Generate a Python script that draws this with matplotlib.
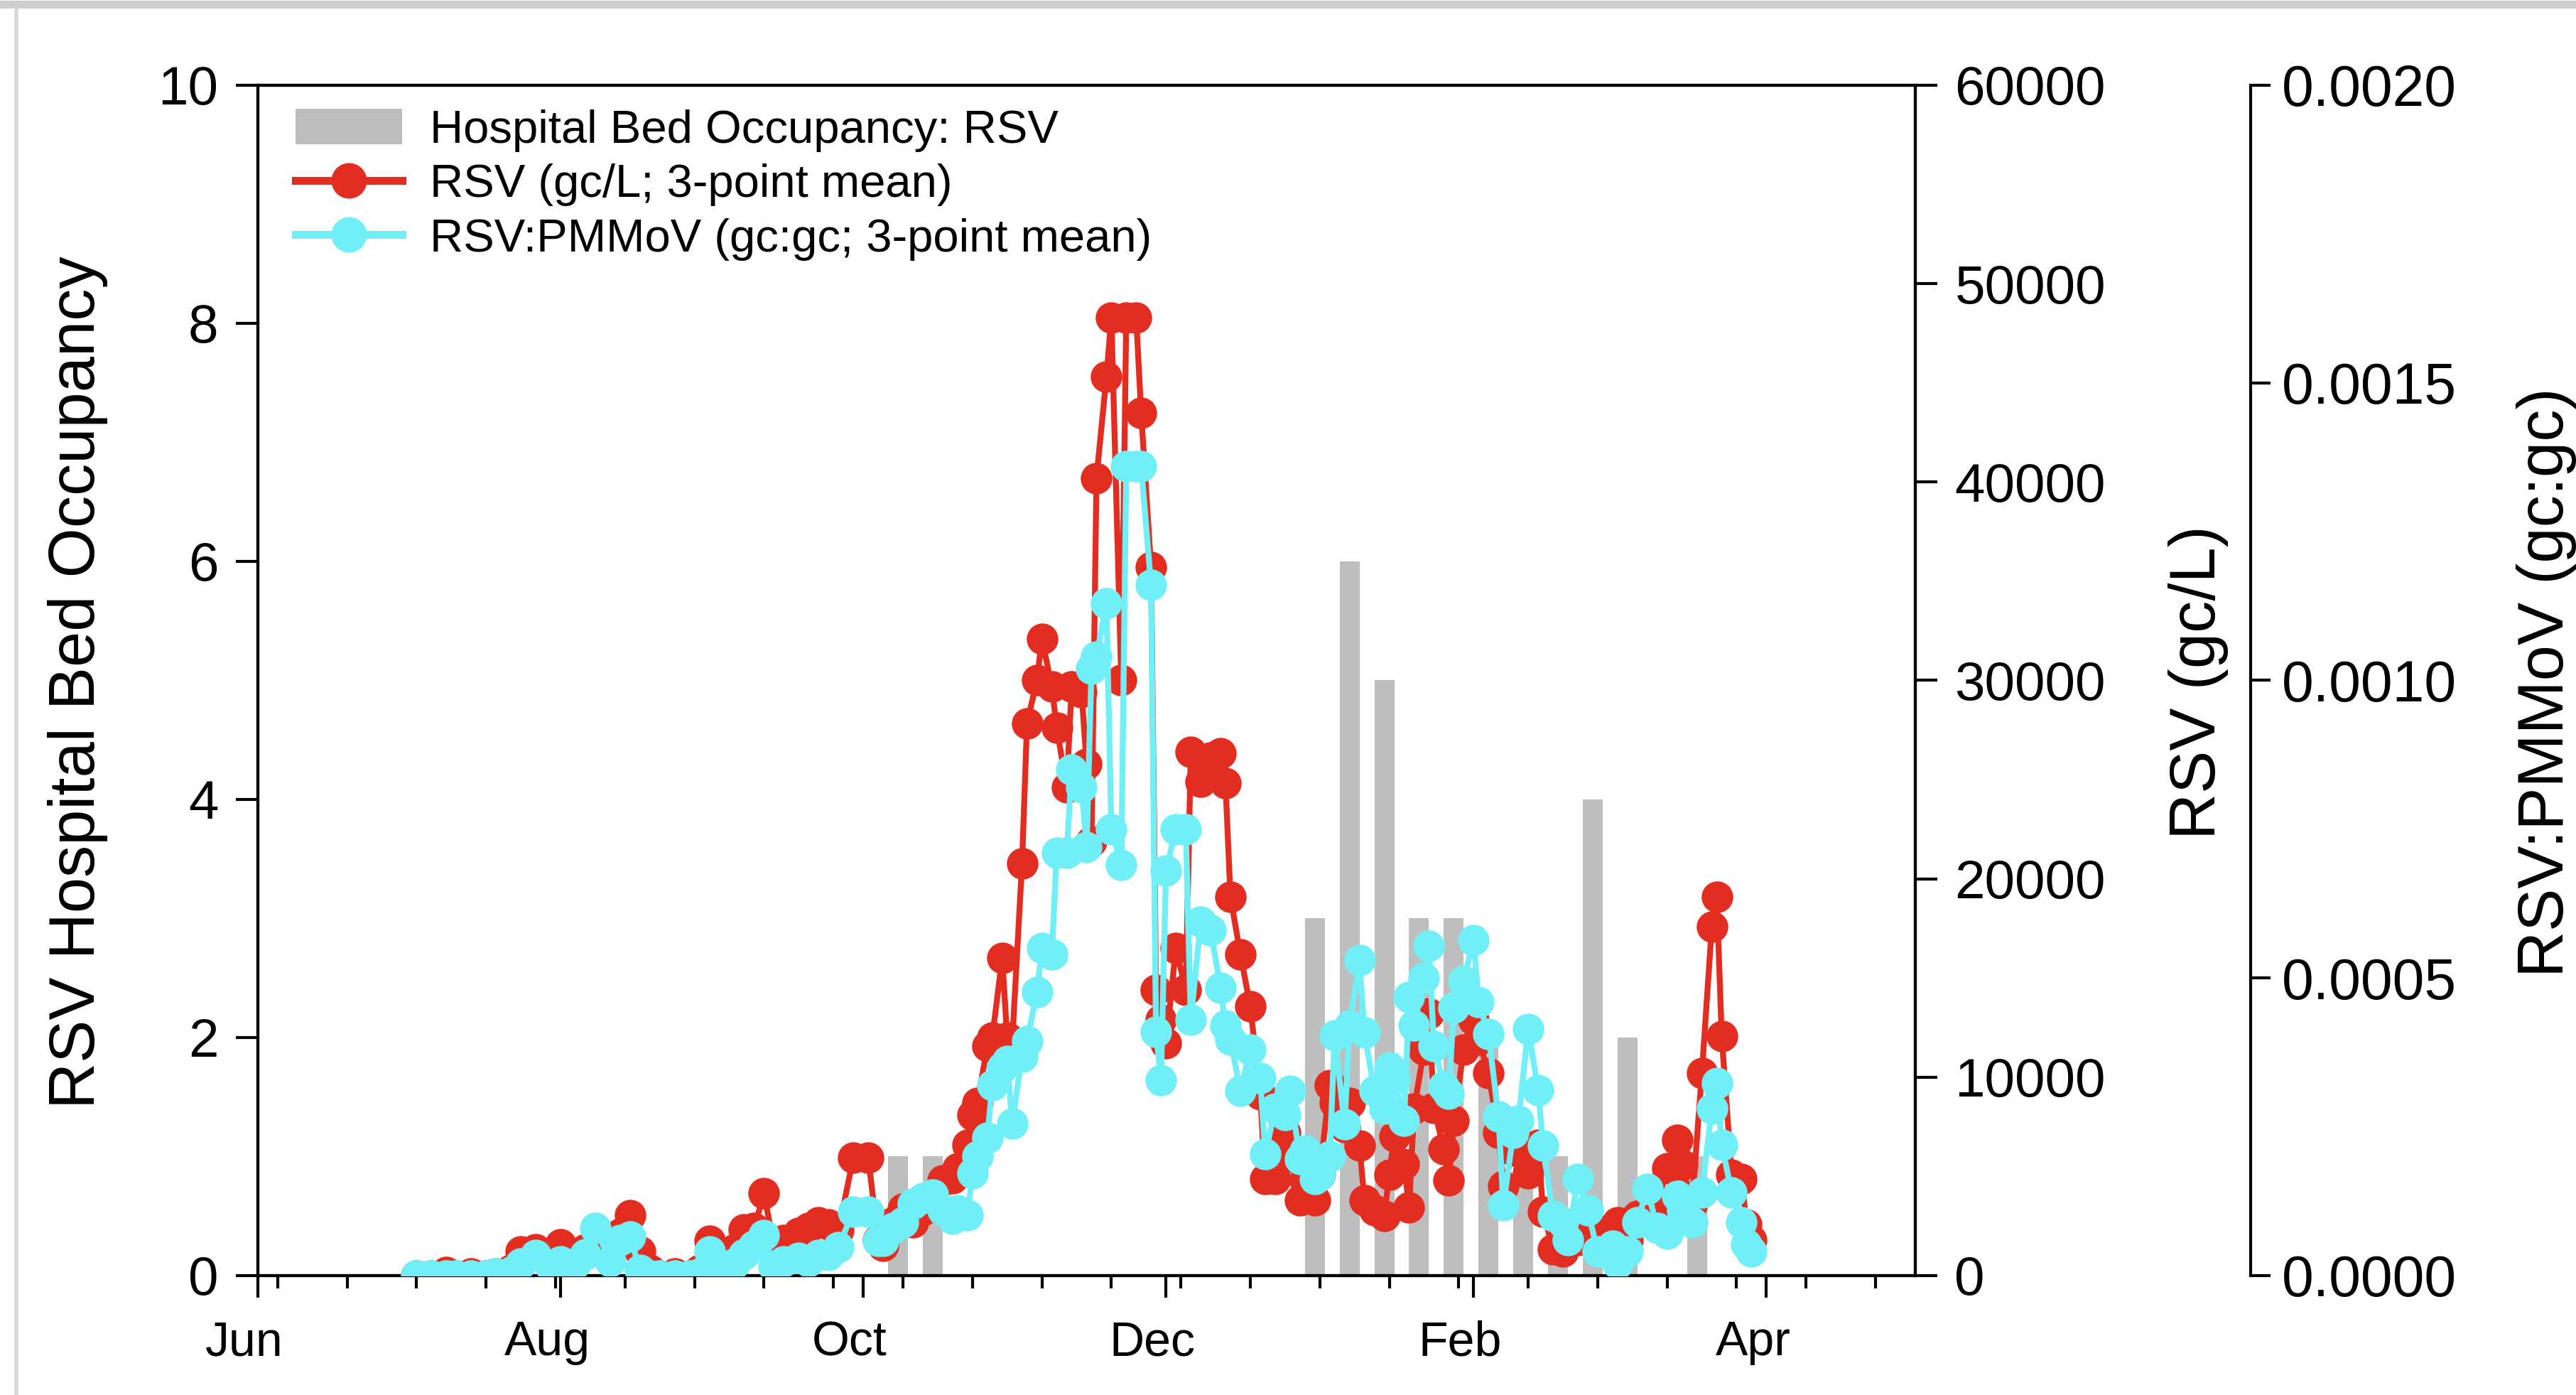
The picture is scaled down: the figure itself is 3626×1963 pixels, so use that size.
import numpy as np
import pandas as pd
import matplotlib
matplotlib.use("Agg")
import matplotlib.pyplot as plt
import matplotlib.dates as mdates
from matplotlib.patches import Patch
from matplotlib.lines import Line2D
from matplotlib.transforms import ScaledTranslation
from matplotlib.ticker import FixedLocator, MultipleLocator, FormatStrFormatter

plt.rcParams["font.family"] = ["Liberation Sans", "DejaVu Sans"]

# wastewater sampling dates (3-point means)
sample_dates = [
    "2022-07-03", "2022-07-06", "2022-07-09", "2022-07-11", "2022-07-14", "2022-07-17", "2022-07-19", "2022-07-22", "2022-07-24", "2022-07-27",
    "2022-07-30", "2022-08-01", "2022-08-04", "2022-08-06", "2022-08-08", "2022-08-11", "2022-08-13", "2022-08-15", "2022-08-17", "2022-08-19",
    "2022-08-21", "2022-08-24", "2022-08-27", "2022-08-29", "2022-08-31", "2022-09-03", "2022-09-05", "2022-09-07", "2022-09-09", "2022-09-11",
    "2022-09-13", "2022-09-15", "2022-09-18", "2022-09-20", "2022-09-22", "2022-09-24", "2022-09-26", "2022-09-29", "2022-10-02", "2022-10-04",
    "2022-10-05", "2022-10-07", "2022-10-09", "2022-10-11", "2022-10-13", "2022-10-15", "2022-10-17", "2022-10-19", "2022-10-20", "2022-10-22",
    "2022-10-23", "2022-10-24", "2022-10-26", "2022-10-27", "2022-10-29", "2022-10-30", "2022-10-31", "2022-11-02", "2022-11-03", "2022-11-05",
    "2022-11-06", "2022-11-08", "2022-11-09", "2022-11-11", "2022-11-12", "2022-11-14", "2022-11-15", "2022-11-16", "2022-11-17", "2022-11-19",
    "2022-11-20", "2022-11-22", "2022-11-23", "2022-11-25", "2022-11-26", "2022-11-28", "2022-11-29", "2022-11-30", "2022-12-01", "2022-12-03",
    "2022-12-05", "2022-12-06", "2022-12-08", "2022-12-10", "2022-12-12", "2022-12-13", "2022-12-14", "2022-12-16", "2022-12-18", "2022-12-20",
    "2022-12-21", "2022-12-23", "2022-12-25", "2022-12-26", "2022-12-28", "2022-12-29", "2022-12-31", "2023-01-01", "2023-01-03", "2023-01-04",
    "2023-01-06", "2023-01-07", "2023-01-09", "2023-01-10", "2023-01-12", "2023-01-14", "2023-01-15", "2023-01-16", "2023-01-18", "2023-01-19",
    "2023-01-20", "2023-01-22", "2023-01-23", "2023-01-24", "2023-01-26", "2023-01-27", "2023-01-28", "2023-01-30", "2023-02-01", "2023-02-02",
    "2023-02-04", "2023-02-06", "2023-02-07", "2023-02-09", "2023-02-10", "2023-02-12", "2023-02-14", "2023-02-15", "2023-02-17", "2023-02-19",
    "2023-02-20", "2023-02-22", "2023-02-24", "2023-02-26", "2023-03-01", "2023-03-02", "2023-03-04", "2023-03-06", "2023-03-08", "2023-03-10",
    "2023-03-12", "2023-03-14", "2023-03-15", "2023-03-17", "2023-03-19", "2023-03-21", "2023-03-22", "2023-03-23", "2023-03-25", "2023-03-27",
    "2023-03-28", "2023-03-29",
]

# RSV (gc/L; 3-point mean)
rsv_gcl = [
    0, 0, 180, 0, 120, 0, 120, 300, 1200, 1320,
    720, 1560, 900, 1320, 1800, 1200, 2100, 3060, 1200, 300,
    0, 120, 0, 300, 1740, 480, 1320, 2340, 2400, 4140,
    1500, 1800, 2160, 2400, 2700, 2580, 2280, 5940, 5940, 1800,
    1500, 2700, 3360, 2700, 3300, 3600, 4800, 4920, 5400, 6600,
    8100, 8700, 11580, 12000, 16020, 12000, 11700, 20760, 27840, 30000,
    32100, 29700, 27600, 24600, 29700, 29400, 25800, 21900, 40200, 45300,
    48300, 30000, 48300, 48300, 43500, 35700, 14400, 12900, 11700, 16500,
    14400, 26400, 24900, 26100, 26340, 24840, 19080, 16200, 13560, 9120,
    4860, 4860, 7200, 6000, 3780, 4800, 3780, 5100, 9600, 8700,
    7500, 8700, 6540, 3780, 3300, 3000, 5100, 7020, 5640, 3420,
    8400, 11400, 13200, 8460, 6360, 4800, 7800, 11400, 12900, 11880,
    10200, 7200, 4500, 6300, 6540, 5160, 6600, 3240, 1320, 1200,
    2400, 1800, 2100, 1800, 2400, 2700, 1800, 3000, 3300, 3600,
    5400, 6840, 5580, 3600, 10200, 17580, 19080, 12060, 5100, 4860,
    2580, 1800,
]

# RSV:PMMoV (gc:gc; 3-point mean), in units of 1e-4
rsv_pmmov_e4 = [
    0, 0, 0, 0, 0, 0, 0.04, 0.06, 0.20, 0.34,
    0.16, 0.24, 0.20, 0.36, 0.80, 0.24, 0.60, 0.66, 0.10, 0,
    0, 0, 0, 0.04, 0.40, 0, 0.20, 0.36, 0.50, 0.68,
    0.16, 0.24, 0.30, 0.24, 0.34, 0.34, 0.48, 1.08, 1.08, 0.58,
    0.58, 0.80, 0.90, 1.20, 1.30, 1.36, 1.10, 0.96, 1.10, 1.02,
    1.72, 2.00, 2.32, 3.20, 3.50, 3.60, 2.56, 3.68, 3.94, 4.76,
    5.50, 5.40, 7.10, 7.10, 8.50, 8.20, 7.20, 10.2, 10.4, 11.3,
    7.50, 6.90, 13.6, 13.6, 13.6, 11.6, 4.10, 3.28, 6.80, 7.50,
    7.50, 4.30, 5.94, 5.80, 4.84, 4.20, 3.96, 3.10, 3.80, 3.32,
    2.04, 2.80, 2.70, 3.10, 1.96, 2.10, 1.62, 1.70, 2.00, 4.04,
    2.54, 4.20, 5.30, 4.08, 3.10, 2.80, 3.50, 3.30, 2.60, 4.68,
    4.20, 5.00, 5.54, 3.86, 3.18, 3.06, 4.50, 4.96, 5.64, 4.60,
    4.06, 2.68, 1.18, 2.40, 2.60, 4.14, 3.12, 2.18, 1.00, 0.90,
    0.60, 1.62, 1.10, 0.40, 0.50, 0.20, 0.40, 0.90, 1.46, 0.80,
    0.70, 1.34, 1.10, 0.90, 1.40, 2.80, 3.24, 2.20, 1.40, 0.90,
    0.52, 0.40,
]

# weekly hospital bed occupancy
bed_dates = ["2022-10-08", "2022-10-15", "2022-12-31", "2023-01-07", "2023-01-14",
             "2023-01-21", "2023-01-28", "2023-02-04", "2023-02-11", "2023-02-18",
             "2023-02-25", "2023-03-04", "2023-03-18"]
bed_occupancy = [1, 1, 3, 6, 5, 3, 3, 2, 1, 1, 4, 2, 1]

legend_labels = ["Hospital Bed Occupancy: RSV", "RSV (gc/L; 3-point mean)",
                 "RSV:PMMoV (gc:gc; 3-point mean)"]

RED = "#E22D20"
CYAN = "#70F0F6"
GRAY = "#BEBEBE"

dates = pd.to_datetime(sample_dates)
ratio = np.array(rsv_pmmov_e4) * 1e-4
bdates = pd.to_datetime(bed_dates)

fig = plt.figure(figsize=(36.26, 19.63), dpi=100)
ax = fig.add_axes([0.1001, 0.0856, 0.6434, 0.8533])

ax.bar(bdates, bed_occupancy, width=4, color=GRAY, zorder=1)
ax.set_ylim(0, 10)
ax.set_xlim(pd.Timestamp("2022-06-01"), pd.Timestamp("2023-05-01"))
ax.yaxis.set_major_locator(MultipleLocator(2))
ax.xaxis.set_major_locator(mdates.MonthLocator(bymonth=[2, 4, 6, 8, 10, 12]))
ax.xaxis.set_major_formatter(mdates.DateFormatter("%b"))
minor = pd.date_range("2022-06-05", "2023-04-30", freq="14D")
ax.xaxis.set_minor_locator(FixedLocator(mdates.date2num(minor)))
ax.tick_params(axis="y", which="major", length=22, width=3, labelsize=55, pad=18)
ax.tick_params(axis="x", which="major", length=22, width=3, labelsize=49, pad=23)
ax.tick_params(axis="x", which="minor", length=13, width=3)
for s in ax.spines.values():
    s.set_linewidth(3)

# month labels sit a little left of their ticks
shift = ScaledTranslation(-0.19, 0, fig.dpi_scale_trans)
for t in ax.xaxis.get_major_ticks():
    t.label1.set_transform(t.label1.get_transform() + shift)

ax2 = ax.twinx()
ax2.plot(dates, rsv_gcl, color=RED, lw=6, marker="o", ms=31, zorder=3)
ax2.set_ylim(0, 60000)
ax2.yaxis.set_major_locator(MultipleLocator(10000))
ax2.tick_params(axis="y", length=22, width=3, labelsize=55, pad=18)
for s in ax2.spines.values():
    s.set_linewidth(3)

ax3 = ax.twinx()
ax3.plot(dates, ratio, color=CYAN, lw=6, marker="o", ms=31, zorder=4)
ax3.set_ylim(0, 0.002)
ax3.yaxis.set_major_locator(MultipleLocator(0.0005))
ax3.yaxis.set_major_formatter(FormatStrFormatter("%.4f"))
ax3.spines["right"].set_position(("axes", 1.2023))
for k in ["left", "top", "bottom"]:
    ax3.spines[k].set_visible(False)
ax3.spines["right"].set_linewidth(3)
ax3.tick_params(axis="y", length=20, width=3, labelsize=58, pad=12)

fig.text(0.0301, 0.511, "RSV Hospital Bed Occupancy", rotation=90, ha="center", va="center", fontsize=65)
fig.text(0.8533, 0.511, "RSV (gc/L)", rotation=90, ha="center", va="center", fontsize=65)
fig.text(0.9885, 0.511, "RSV:PMMoV (gc:gc)", rotation=90, ha="center", va="center", fontsize=65)

handles = [
    Patch(facecolor=GRAY, edgecolor="none"),
    Line2D([], [], color=RED, lw=8, marker="o", ms=35),
    Line2D([], [], color=CYAN, lw=8, marker="o", ms=35),
]
ax3.legend(handles, legend_labels, loc="upper left", bbox_to_anchor=(0.0227, 0.980),
           frameon=False, fontsize=47, handlelength=2.3, handleheight=0.8,
           handletextpad=0.6, labelspacing=0.24, borderaxespad=0, borderpad=0)

# screenshot edge shading
fig.add_artist(Line2D([0, 1], [0.997, 0.997], transform=fig.transFigure, color="#cfcfcf", lw=8))
fig.add_artist(Line2D([0.0063, 0.0063], [0, 0.993], transform=fig.transFigure, color="#d6d6d6", lw=4))

fig.savefig("out.png", dpi=100)
